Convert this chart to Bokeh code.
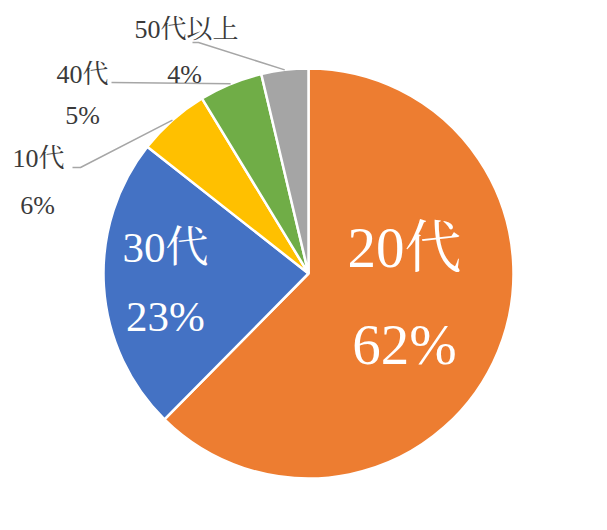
import math
from bokeh.plotting import figure
from bokeh.models import Range1d, ColumnDataSource
from bokeh.core.properties import value
from bokeh.embed import file_html
from bokeh.resources import INLINE

# ---- data ----
categories = ["20代", "30代", "10代", "40代", "50代以上"]
shares = [62.4, 23.2, 5.7, 5.0, 3.7]
colors = ["#ED7D31", "#4472C4", "#FFC000", "#70AD47", "#A5A5A5"]

# ---- layout ----
W, H = 591, 514


def pos(X, Y):
    """screen pixel -> data coords (y up)"""
    return X, H - Y


CX, CY = pos(308, 273)
R = 205
FONT = "Liberation Serif, Noto Serif CJK JP, Noto Sans CJK JP"

# label layout: (name position, pct position, size, colour)
label_layout = [
    ((404, 247), (404, 344), "57px", "white"),
    ((165, 247), (165, 316), "43px", "white"),
    ((38, 158), (37, 205), "26px", "#3A3A3A"),
    ((82, 74), (82, 115), "26px", "#3A3A3A"),
    ((186, 29), (184, 74), "26px", "#3A3A3A"),
]
# leader line label-side points (None = no leader)
leader_ends = [None, None, [(72, 167), (80, 167)], [(111, 82)], [(192, 42), (198, 42)]]

p = figure(width=W, height=H, x_range=Range1d(0, W), y_range=Range1d(0, H),
           output_backend="svg", toolbar_location=None, min_border=0)
p.axis.visible = False
p.grid.visible = False
p.outline_line_color = None
p.background_fill_color = "white"
p.border_fill_color = "white"

total = sum(shares)
starts, ends, mids = [], [], []
acc = 0.0
for s in shares:
    a = acc / total * 360.0
    acc += s
    b = acc / total * 360.0
    starts.append(90 - b)
    ends.append(90 - a)
    mids.append((a + b) / 2)

src = ColumnDataSource(dict(start=starts, end=ends, color=colors, cat=categories))
p.wedge(x=CX, y=CY, radius=R, start_angle="start", end_angle="end",
        start_angle_units="deg", end_angle_units="deg",
        fill_color="color", line_color="white", line_width=2.5, source=src)

# leader lines
for i, le in enumerate(leader_ends):
    if le is None:
        continue
    m = math.radians(mids[i])
    ex, ey = CX + R * math.sin(m), CY + R * math.cos(m)
    pts = [pos(*q) for q in le] + [(ex, ey)]
    p.line([q[0] for q in pts], [q[1] for q in pts], line_color="#A6A6A6", line_width=1.5)

# labels
for i, cat in enumerate(categories):
    (n_pos, pc_pos, size, col) = label_layout[i]
    pct = f"{round(shares[i] / total * 100)}%"
    nx, ny = pos(*n_pos)
    px, py = pos(*pc_pos)
    p.text(x=[nx, px], y=[ny, py], text=[cat, pct], text_align="center",
           text_baseline="middle", text_font=value(FONT), text_font_size=size,
           text_color=col)

open("out.html", "w").write(file_html(p, INLINE))
